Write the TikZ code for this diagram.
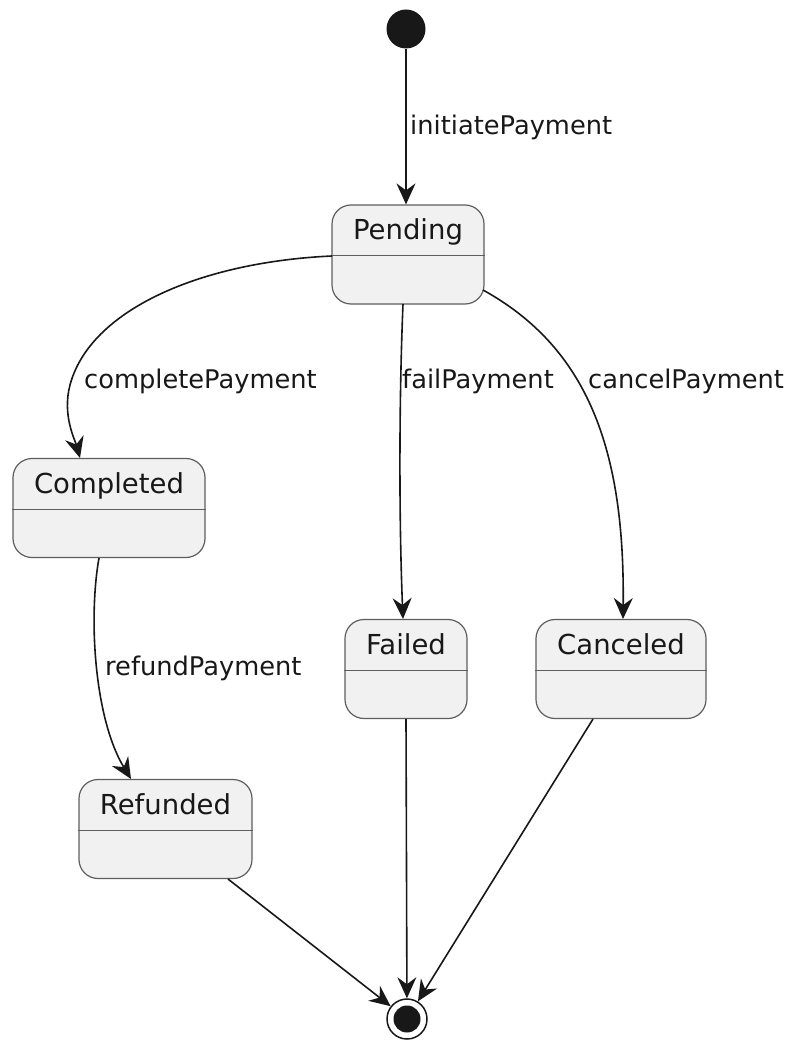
\documentclass[tikz,border=0pt]{standalone}
\usepackage{fontspec}
\setmainfont{DejaVu Sans}
\usetikzlibrary{arrows.meta}
\definecolor{ink}{HTML}{181818}
\definecolor{edge}{HTML}{5E5E5E}
\definecolor{statefill}{HTML}{F1F1F1}
\tikzset{
  statebox/.style={draw=edge, fill=statefill, line width=1.2pt, rounded corners=19pt,
    inner xsep=0pt, inner ysep=0pt, text height=35pt, text depth=64pt,
    font=\fontsize{27.5}{30}\selectfont, text=ink},
  startdot/.style={circle, fill=ink, minimum size=39pt, inner sep=0pt},
  enddot/.style={circle, draw=ink, fill=white, line width=1.5pt, minimum size=40pt, inner sep=0pt,
    path picture={\fill[ink] (path picture bounding box.center) circle (13.5pt);}},
  trans/.style={draw=ink, line width=1.6pt, -{Stealth[length=21pt, width=19pt, inset=7pt]}},
  tlabel/.style={anchor=west, inner sep=0pt, font=\fontsize{25.7}{28}\selectfont, text=ink},
}
\newcommand{\divider}[1]{\draw[edge, line width=1.2pt] ([yshift=-51.5pt]#1.north west) -- ([yshift=-51.5pt]#1.north east);}
\begin{document}
\begin{tikzpicture}[x=1pt, y=-1pt]
\useasboundingbox (0,0) rectangle (795,1048);

% states
\node[startdot] (start) at (406,29) {};
\node[statebox, minimum width=152pt] (pending) at (408,254.5) {Pending};
\node[statebox, minimum width=192pt] (completed) at (109,508) {Completed};
\node[statebox, minimum width=122pt] (failed) at (406,669) {Failed};
\node[statebox, minimum width=170pt] (canceled) at (621,669) {Canceled};
\node[statebox, minimum width=173pt] (refunded) at (165.5,829) {Refunded};
\node[enddot] (final) at (407,1019) {};
\divider{pending}
\divider{completed}
\divider{failed}
\divider{canceled}
\divider{refunded}

% anchor points of the transitions
\coordinate (pw) at (332,256);
\coordinate (ps) at (403,304);
\coordinate (pe) at (483,290);
\coordinate (cn) at (80,458);
\coordinate (cs) at (99,558);
\coordinate (fn) at (403,619);
\coordinate (fs) at (406,719);
\coordinate (kn) at (623,619);
\coordinate (ks) at (593,719);
\coordinate (rn) at (131,779);
\coordinate (rs) at (228,879);

% transitions
\draw[trans] (start) -- (start |- pending.north);
\draw[trans] (pw) .. controls (200,262) and (90,310) .. (70,385)
                  .. controls (62,415) and (75,440) .. (cn);
\draw[trans] (ps) .. controls (399,400) and (399,520) .. (fn);
\draw[trans] (pe) .. controls (588,348) and (625,450) .. (kn);
\draw[trans] (cs) .. controls (88,620) and (95,720) .. (rn);
\draw[trans] (rs) -- (final);
\draw[trans] (fs) -- (final);
\draw[trans] (ks) -- (final);

% transition labels
\node[tlabel] (l1) at (410,127) {initiatePayment};
\node[tlabel] (l2) at (84,381) {completePayment};
\node[tlabel] (l3) at (402,381) {failPayment};
\node[tlabel] (l4) at (588,381) {cancelPayment};
\node[tlabel] (l5) at (105,668) {refundPayment};
\end{tikzpicture}
\end{document}
